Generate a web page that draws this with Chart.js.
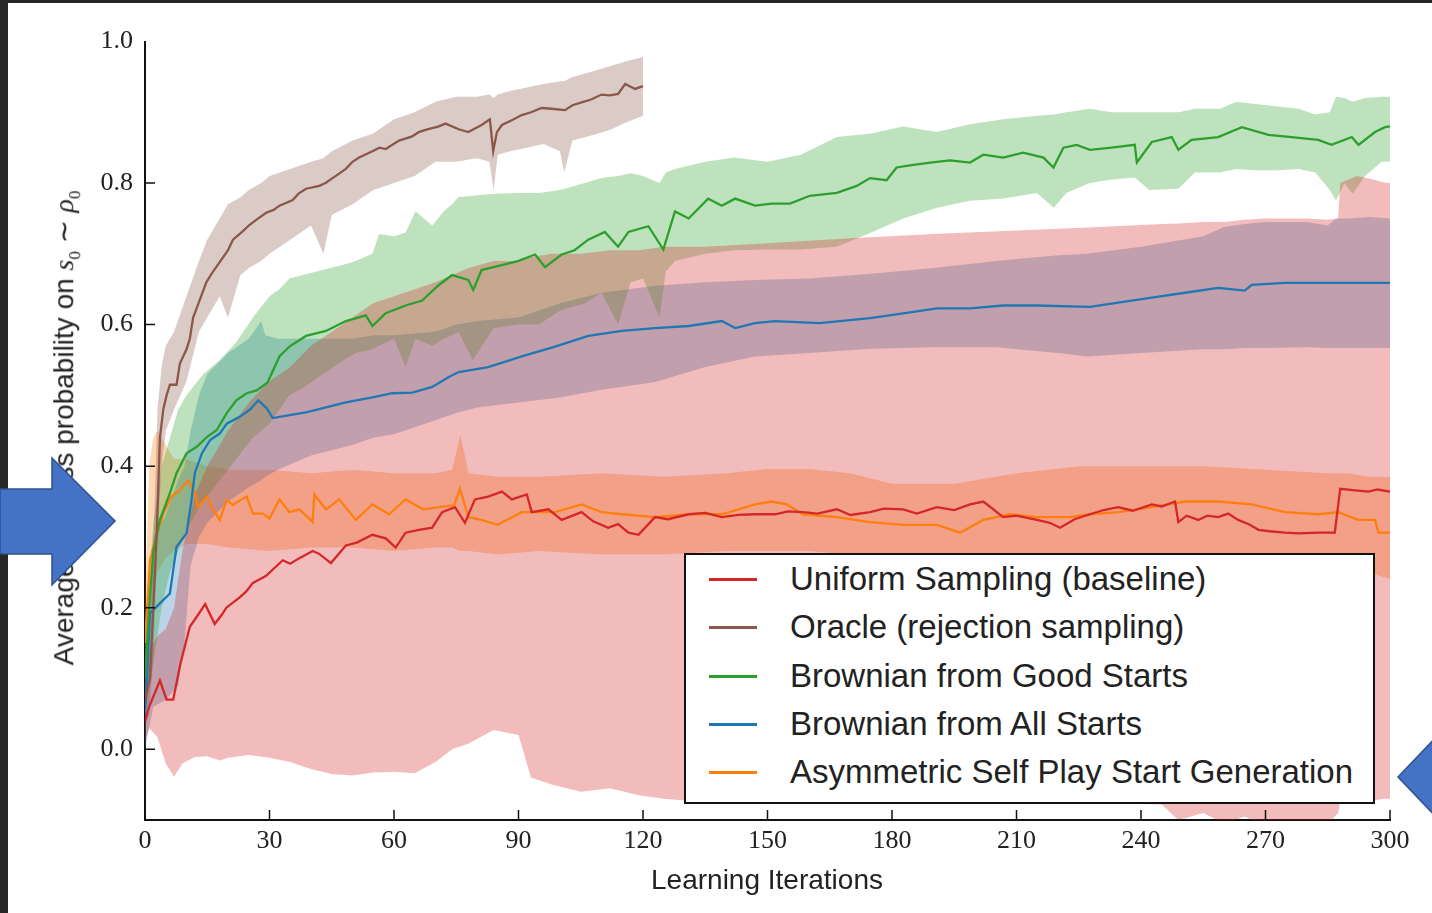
<!DOCTYPE html>
<html>
<head>
<meta charset="utf-8">
<script src="https://cdn.jsdelivr.net/npm/chart.js@4.4.1/dist/chart.umd.min.js"></script>
<style>
  html, body { margin: 0; padding: 0; background: #fff; }
  #wrap { position: relative; width: 1432px; height: 913px; overflow: hidden; background: #fff; }
  #wrap canvas { position: absolute; left: 0; top: 0; }
  .frame-top { position: absolute; left: 0; top: 0; width: 1432px; height: 3px; background: #262626; }
  .frame-left { position: absolute; left: 0; top: 0; width: 8px; height: 913px; background: #262626; }
  #ytitle {
    position: absolute; left: 66px; top: 428px;
    transform: translate(-50%, -50%) rotate(-90deg);
    white-space: nowrap; font-family: "Liberation Sans", Arial, sans-serif;
    font-size: 28px; color: #222;
  }
  #ytitle i { font-family: "Liberation Serif", serif; }
  #ytitle sub { font-size: 17px; font-family: "Liberation Serif", serif; }
  #xtitle {
    position: absolute; left: 767px; top: 880px;
    transform: translate(-50%, -50%);
    font-family: "Liberation Sans", Arial, sans-serif; font-size: 28px;
    color: #222; white-space: nowrap;
  }
  #legend {
    position: absolute; left: 684px; top: 553px; width: 687px; height: 247px;
    border: 2px solid #111; background: #fff;
  }
  #legend .row { position: absolute; left: 0; height: 40px; }
  #legend .swatch { position: absolute; left: 23px; top: 19px; width: 48px; height: 3px; }
  #legend .label {
    position: absolute; left: 104px; top: 0; line-height: 40px; white-space: nowrap;
    font-family: "Liberation Sans", Arial, sans-serif; font-size: 33px; color: #222;
  }
  svg.arrows { position: absolute; left: 0; top: 0; }
</style>
</head>
<body>
<div id="wrap">
  <canvas id="chart" width="1432" height="913"></canvas>
  <div class="frame-top"></div>
  <div class="frame-left"></div>
  <div id="ytitle">Average success probability on <i>s</i><sub>0</sub> ∼ <i>ρ</i><sub>0</sub></div>
  <div id="xtitle">Learning Iterations</div>
  <div id="legend"></div>
  <svg class="arrows" width="1432" height="913">
    <polygon points="0,489 52,489 52,458 115,521 52,585 52,554 0,554" fill="#4472C4" stroke="#2F528F" stroke-width="1.5"/>
    <polygon points="1398,777 1440,733 1440,821" fill="#4472C4" stroke="#2F528F" stroke-width="1.5"/>
  </svg>
</div>
<script>
const seriesNames = [
    'Uniform Sampling (baseline)',
    'Oracle (rejection sampling)',
    'Brownian from Good Starts',
    'Brownian from All Starts',
    'Asymmetric Self Play Start Generation'
];
const seriesColors = ['#d62728', '#8c564b', '#2ca02c', '#1f77b4', '#ff7f0e'];

const xTickValues = [0, 30, 60, 90, 120, 150, 180, 210, 240, 270, 300];
const yTickValues = [0.0, 0.2, 0.4, 0.6, 0.8, 1.0];

// [iteration, mean]
const uniformMean = [
    [0,0.04],[1,0.06],[3.6,0.097],[5.2,0.07],[6.8,0.07],[8.5,0.12],[10.8,0.173],[12.8,0.19],
    [14.5,0.205],[16.8,0.177],[18.5,0.19],[19.6,0.2],[22.9,0.215],[24.4,0.223],[26,0.235],
    [29.2,0.245],[31,0.255],[33.2,0.267],[35,0.262],[37.2,0.27],[40.4,0.28],[42,0.276],
    [44.8,0.263],[48.4,0.288],[51,0.292],[54.8,0.303],[58,0.298],[60.4,0.285],[62.8,0.306],
    [66,0.31],[69.2,0.313],[71.6,0.335],[74.7,0.342],[77.1,0.32],[79.5,0.353],[82.7,0.357],
    [86,0.364],[88.4,0.353],[92,0.36],[93.2,0.335],[97.2,0.339],[100.4,0.324],[105.2,0.335],
    [108,0.322],[111.6,0.313],[114,0.318],[116.5,0.306],[118.9,0.303],[122.9,0.328],[126,0.325],
    [131,0.332],[135,0.334],[139,0.328],[143,0.331],[147,0.332],[151.8,0.332],[155,0.336],
    [158.6,0.335],[162,0.333],[166.7,0.339],[170,0.331],[174.7,0.335],[178,0.34],[182.7,0.339],
    [186,0.333],[190.8,0.342],[195,0.338],[198.8,0.346],[202,0.35],[206.8,0.328],[210,0.33],
    [214.9,0.324],[218,0.32],[220.5,0.313],[224,0.325],[227.7,0.332],[231,0.338],[234.5,0.342],
    [238,0.337],[242.6,0.346],[245,0.343],[248.2,0.35],[249,0.321],[251,0.33],[253.8,0.324],
    [256,0.33],[258.6,0.328],[261,0.333],[263.4,0.324],[266,0.318],[268.3,0.31],[271,0.308],
    [274.7,0.306],[278,0.305],[282.7,0.306],[286.7,0.306],[288,0.368],[291,0.366],[294.8,0.364],
    [297,0.367],[300,0.364]
];
// [iteration, low, high]
const uniformBand = [
    [0,0.01,0.12],[1,0.03,0.14],[3,0.017,0.16],[5,-0.02,0.17],[7,-0.039,0.2],[9,-0.02,0.28],
    [12,-0.011,0.36],[15,-0.01,0.4],[18,-0.016,0.43],[20,-0.012,0.45],[25,-0.008,0.49],
    [30,-0.012,0.52],[35,-0.018,0.54],[40,-0.028,0.57],[45,-0.035,0.59],[50,-0.037,0.61],
    [55,-0.033,0.63],[60,-0.032,0.64],[65,-0.034,0.65],[70,-0.018,0.66],[74,0.0,0.67],
    [78,0.008,0.68],[84,0.027,0.69],[90,0.02,0.69],[93,-0.04,0.695],[98,-0.05,0.7],
    [105,-0.06,0.7],[112,-0.055,0.705],[119,-0.065,0.705],[125,-0.07,0.71],[135,-0.075,0.71],
    [150,-0.076,0.715],[170,-0.076,0.722],[190,-0.075,0.728],[210,-0.077,0.733],[230,-0.076,0.738],
    [245,-0.078,0.742],[249,-0.1,0.743],[255,-0.09,0.745],[260,-0.105,0.745],[265,-0.095,0.748],
    [270,-0.11,0.75],[275,-0.105,0.75],[280,-0.11,0.75],[285,-0.105,0.748],[287.5,-0.09,0.75],
    [288,-0.072,0.8],[292,-0.075,0.81],[296,-0.072,0.805],[299,-0.07,0.8],[300,-0.07,0.8]
];

const oracleMean = [
    [0,0.07],[1.2,0.1],[2,0.2],[2.8,0.3],[3.6,0.44],[4.4,0.48],[5.2,0.5],[6,0.515],[7.6,0.515],
    [8.4,0.545],[10,0.565],[10.8,0.58],[11.6,0.61],[13.2,0.635],[14.8,0.66],[16.4,0.675],
    [18.8,0.695],[20,0.705],[21.2,0.72],[23.6,0.732],[25,0.74],[26.8,0.748],[29.2,0.758],
    [31,0.762],[32.4,0.768],[35.6,0.776],[37,0.785],[38.8,0.792],[42,0.796],[43.5,0.8],
    [45.2,0.807],[48.4,0.82],[50,0.83],[51.6,0.836],[54.8,0.845],[56.5,0.85],[58,0.848],
    [61.2,0.86],[64.4,0.866],[66,0.872],[67.6,0.875],[70.8,0.88],[72.4,0.884],[75.6,0.876],
    [77.9,0.872],[81.1,0.882],[83.1,0.89],[83.9,0.845],[84.8,0.872],[86,0.882],[88.5,0.889],
    [90.8,0.896],[93,0.9],[95.6,0.906],[98,0.905],[101.2,0.903],[103,0.91],[105.2,0.914],
    [107.5,0.918],[110,0.925],[112,0.924],[114,0.926],[115.7,0.94],[118.1,0.933],[120,0.937]
];
const oracleBand = [
    [0,0.03,0.1],[1,0.05,0.15],[2,0.13,0.28],[3,0.3,0.48],[4,0.4,0.54],[5,0.45,0.57],
    [7,0.48,0.59],[10,0.52,0.64],[13,0.59,0.69],[15,0.61,0.72],[18,0.64,0.75],[20,0.61,0.77],
    [23,0.67,0.78],[25,0.68,0.79],[28,0.69,0.8],[30,0.7,0.81],[35,0.72,0.82],[40,0.74,0.83],
    [43,0.7,0.835],[45,0.755,0.845],[50,0.77,0.86],[55,0.79,0.87],[60,0.8,0.89],[65,0.81,0.9],
    [70,0.83,0.915],[75,0.83,0.922],[80,0.835,0.922],[83,0.83,0.925],[84,0.79,0.92],
    [85,0.84,0.925],[88,0.845,0.93],[92,0.85,0.935],[96,0.855,0.94],[100,0.845,0.944],
    [101,0.815,0.944],[103,0.86,0.95],[108,0.868,0.958],[112,0.875,0.965],[116,0.886,0.972],
    [120,0.895,0.978]
];

const goodMean = [
    [0,0.1],[1,0.2],[2,0.28],[3.6,0.324],[6,0.362],[7.6,0.39],[10,0.418],[12.4,0.427],
    [14.9,0.441],[17.3,0.451],[19.7,0.475],[22,0.493],[24.5,0.503],[26.9,0.507],[29.5,0.518],
    [32.4,0.555],[34.8,0.569],[38.8,0.584],[43.6,0.591],[48.4,0.605],[53.2,0.613],[54.8,0.598],
    [58,0.616],[62.8,0.627],[66.8,0.634],[70.8,0.656],[74,0.67],[77.9,0.663],[79.1,0.649],
    [81.1,0.677],[86.7,0.685],[90,0.69],[94,0.699],[96.4,0.681],[100.4,0.699],[103.5,0.705],
    [106.8,0.72],[110.8,0.731],[114,0.71],[116.5,0.731],[121.3,0.739],[124.9,0.706],[127.7,0.76],
    [131,0.75],[135.7,0.778],[139,0.768],[142.2,0.778],[147,0.768],[151,0.771],[155.4,0.771],
    [160.2,0.782],[166.7,0.786],[171.5,0.796],[174.7,0.807],[178.7,0.804],[181.1,0.822],
    [184.3,0.825],[189.2,0.829],[194,0.832],[198.8,0.829],[202,0.84],[206.8,0.836],[211.6,0.843],
    [216.5,0.836],[218.9,0.822],[221.3,0.85],[224.5,0.854],[227.7,0.847],[232.9,0.85],
    [238.5,0.854],[239,0.829],[242.6,0.858],[247.4,0.865],[249,0.847],[252.2,0.861],
    [258.6,0.865],[264.3,0.879],[270.7,0.868],[276.3,0.865],[282.7,0.861],[285.9,0.854],
    [290.8,0.865],[292.4,0.854],[296.4,0.872],[298.8,0.879],[300,0.88]
];
const goodBand = [
    [0,0.05,0.15],[2,0.12,0.32],[4,0.2,0.4],[6,0.25,0.44],[8,0.28,0.48],[10,0.31,0.5],
    [14,0.35,0.53],[18,0.38,0.55],[22,0.41,0.575],[26,0.44,0.61],[30,0.46,0.64],[32.4,0.48,0.65],
    [34.8,0.5,0.665],[38,0.51,0.67],[42.8,0.53,0.677],[48,0.55,0.685],[50.8,0.56,0.69],
    [54.8,0.565,0.7],[56.4,0.57,0.728],[60,0.58,0.725],[62.8,0.54,0.73],[65.2,0.58,0.76],
    [69.2,0.57,0.74],[72,0.58,0.76],[74,0.585,0.77],[75.5,0.59,0.78],[79,0.55,0.782],
    [84,0.595,0.785],[90,0.6,0.786],[95,0.6,0.786],[100,0.62,0.79],[106,0.63,0.8],
    [110,0.645,0.807],[114,0.6,0.81],[117,0.66,0.814],[120,0.665,0.81],[124,0.61,0.8],
    [125.5,0.675,0.815],[127.7,0.69,0.82],[135,0.7,0.83],[142,0.705,0.836],[150,0.706,0.83],
    [158,0.706,0.84],[166.7,0.71,0.865],[175,0.73,0.87],[182.7,0.75,0.88],[190.8,0.765,0.872],
    [198.8,0.775,0.883],[206.8,0.778,0.89],[214.9,0.786,0.895],[219,0.765,0.897],[222,0.786,0.9],
    [227.7,0.8,0.905],[233,0.805,0.9],[238.5,0.808,0.9],[242,0.79,0.9],[249,0.792,0.9],
    [253,0.815,0.905],[259,0.815,0.905],[263,0.82,0.915],[267,0.818,0.912],[273,0.818,0.908],
    [278,0.82,0.905],[282,0.815,0.897],[285.5,0.79,0.9],[287,0.775,0.922],[289,0.8,0.92],
    [291,0.785,0.915],[294,0.81,0.92],[298,0.83,0.922],[300,0.83,0.922]
];

const allMean = [
    [0,0.05],[0.4,0.093],[1.2,0.192],[3.6,0.206],[6,0.22],[7.6,0.286],[10,0.305],[11.2,0.352],
    [12,0.39],[13.7,0.418],[15.7,0.437],[18,0.446],[19.7,0.46],[22.9,0.47],[25.3,0.48],
    [27.3,0.493],[29.3,0.482],[30.8,0.468],[34.8,0.472],[38.8,0.476],[43.6,0.483],[48.4,0.49],
    [54.8,0.497],[59.6,0.503],[64.4,0.504],[69.2,0.512],[73.2,0.526],[75.6,0.533],[82.7,0.54],
    [90.8,0.555],[98.8,0.569],[106.8,0.584],[114.9,0.591],[122.9,0.595],[131,0.598],[139,0.605],
    [142.2,0.595],[147,0.602],[151.8,0.605],[162.6,0.602],[174.7,0.609],[182.7,0.616],
    [190.8,0.623],[198.8,0.623],[206.8,0.627],[214.9,0.627],[227.7,0.625],[234.5,0.631],
    [242.6,0.638],[250.6,0.645],[258.6,0.652],[265,0.648],[266.7,0.656],[274.7,0.659],
    [282.7,0.659],[290.8,0.659],[300,0.659]
];
const allBand = [
    [0,0.0,0.1],[2,0.06,0.3],[5,0.07,0.33],[8,0.09,0.38],[9.5,0.15,0.4],[11,0.26,0.45],
    [13,0.3,0.5],[15,0.32,0.53],[20,0.35,0.56],[25,0.37,0.58],[28,0.38,0.605],[29,0.385,0.585],
    [32,0.395,0.58],[40,0.415,0.58],[50,0.43,0.58],[55,0.44,0.585],[60,0.445,0.585],
    [70,0.465,0.59],[75,0.475,0.6],[80,0.483,0.605],[90,0.49,0.61],[100,0.497,0.63],
    [110,0.508,0.645],[123,0.519,0.655],[135,0.54,0.66],[147,0.555,0.663],[160,0.56,0.665],
    [175,0.566,0.672],[190,0.568,0.68],[205,0.568,0.69],[220,0.56,0.698],[227,0.555,0.7],
    [240,0.56,0.71],[255,0.565,0.725],[260,0.565,0.738],[265,0.567,0.742],[270,0.567,0.745],
    [280,0.568,0.745],[285,0.567,0.74],[287,0.567,0.75],[290,0.567,0.75],[295,0.567,0.752],
    [300,0.567,0.75]
];

const selfPlayMean = [
    [0,0.15],[1.2,0.267],[2.4,0.295],[4.4,0.333],[6.4,0.357],[8.4,0.366],[10.4,0.38],[12,0.362],
    [12.8,0.342],[14.9,0.357],[16,0.342],[18,0.324],[19.7,0.352],[21.2,0.345],[22.9,0.352],
    [24.5,0.357],[26,0.333],[28.4,0.333],[30,0.326],[32.4,0.353],[34.8,0.335],[37.2,0.339],
    [40.4,0.321],[40.8,0.36],[43.6,0.339],[46.8,0.353],[50.8,0.324],[54.8,0.346],[58.8,0.332],
    [62.8,0.353],[67,0.339],[71,0.342],[74.5,0.345],[75.9,0.368],[77.9,0.328],[81,0.324],
    [85,0.317],[90.8,0.335],[98.8,0.335],[105.2,0.346],[110,0.335],[114.9,0.332],[122.9,0.328],
    [131,0.332],[139,0.332],[147,0.346],[151,0.35],[154.6,0.346],[158.6,0.332],[166.7,0.328],
    [174.7,0.321],[182.7,0.317],[190.8,0.317],[196.4,0.306],[202,0.324],[208.4,0.332],
    [214.9,0.328],[222.9,0.328],[227.7,0.332],[234.5,0.335],[242.6,0.342],[250.6,0.35],
    [258.6,0.35],[266.7,0.346],[274.7,0.335],[282.7,0.332],[287.5,0.335],[292.4,0.324],
    [296.4,0.324],[297.2,0.306],[300,0.306]
];
const selfPlayBand = [
    [0,0.1,0.2],[1,0.18,0.4],[2,0.22,0.44],[3,0.25,0.45],[5,0.27,0.43],[7,0.28,0.41],
    [10,0.29,0.41],[15,0.29,0.4],[20,0.285,0.395],[30,0.28,0.395],[40,0.285,0.39],
    [50,0.285,0.395],[60,0.28,0.39],[70,0.285,0.39],[74,0.285,0.395],[76,0.28,0.444],
    [78,0.28,0.39],[85,0.275,0.385],[95,0.28,0.385],[110,0.275,0.39],[125,0.275,0.385],
    [140,0.28,0.39],[150,0.28,0.396],[160,0.28,0.396],[170,0.275,0.39],[180,0.27,0.375],
    [195,0.27,0.375],[210,0.27,0.39],[225,0.275,0.4],[240,0.275,0.4],[255,0.275,0.4],
    [270,0.27,0.395],[285,0.265,0.39],[290,0.26,0.39],[295,0.25,0.385],[300,0.24,0.385]
];

const means = [uniformMean, oracleMean, goodMean, allMean, selfPlayMean];
const bands = [uniformBand, oracleBand, goodBand, allBand, selfPlayBand];

function hexToRgba(hex, a) {
    const n = parseInt(hex.slice(1), 16);
    return `rgba(${(n >> 16) & 255}, ${(n >> 8) & 255}, ${n & 255}, ${a})`;
}

const datasets = [];

// mean lines first so they sit on top (order 0)
means.forEach((m, i) => {
    datasets.push({
        label: seriesNames[i],
        data: m.map(p => ({ x: p[0], y: p[1] })),
        borderColor: seriesColors[i],
        borderWidth: 2.3,
        pointRadius: 0,
        fill: false,
        order: 0
    });
});

// shaded bands: low edge, then high edge filled down to it
bands.forEach((b, i) => {
    datasets.push({
        label: seriesNames[i] + ' low',
        data: b.map(p => ({ x: p[0], y: p[1] })),
        borderWidth: 0,
        pointRadius: 0,
        fill: false,
        order: 1
    });
    datasets.push({
        label: seriesNames[i] + ' high',
        data: b.map(p => ({ x: p[0], y: p[2] })),
        borderWidth: 0,
        pointRadius: 0,
        backgroundColor: hexToRgba(seriesColors[i], 0.31),
        fill: '-1',
        order: 1
    });
});

const innerTicks = {
    id: 'innerTicks',
    afterDatasetsDraw(chart) {
        const { ctx, chartArea, scales } = chart;
        ctx.save();
        ctx.strokeStyle = '#111';
        ctx.lineWidth = 1.5;
        ctx.beginPath();
        yTickValues.filter(v => v < 1).forEach(v => {
            const py = scales.y.getPixelForValue(v);
            ctx.moveTo(chartArea.left, py);
            ctx.lineTo(chartArea.left + 10, py);
        });
        xTickValues.filter(v => v > 0).forEach(v => {
            const px = scales.x.getPixelForValue(v);
            ctx.moveTo(px, chartArea.bottom);
            ctx.lineTo(px, chartArea.bottom - 10);
        });
        ctx.stroke();
        ctx.restore();
    }
};

const tickFont = { family: '"Liberation Serif", serif', size: 26 };

new Chart(document.getElementById('chart').getContext('2d'), {
    type: 'line',
    data: { datasets },
    options: {
        responsive: false,
        animation: false,
        layout: { padding: { left: 0, top: 41.5, right: 42, bottom: 0 } },
        plugins: { legend: { display: false }, tooltip: { enabled: false } },
        elements: { line: { tension: 0 } },
        scales: {
            x: {
                type: 'linear',
                min: 0,
                max: 300,
                z: 1,
                grid: { display: false, drawTicks: false },
                border: { display: true, color: '#111', width: 2 },
                ticks: {
                    autoSkip: false, maxRotation: 0, padding: 6,
                    color: '#222', font: tickFont,
                    callback: v => String(v)
                },
                afterBuildTicks: s => { s.ticks = xTickValues.map(v => ({ value: v })); },
                afterFit: s => { s.height = 93; }
            },
            y: {
                type: 'linear',
                min: -0.1,
                max: 1.0,
                z: 1,
                grid: { display: false, drawTicks: false },
                border: { display: true, color: '#111', width: 2 },
                ticks: {
                    autoSkip: false, padding: 12,
                    color: '#222', font: tickFont,
                    callback: v => v.toFixed(1)
                },
                afterBuildTicks: s => { s.ticks = yTickValues.map(v => ({ value: v })); },
                afterFit: s => { s.width = 145; }
            }
        }
    },
    plugins: [innerTicks]
});

// legend box
const legend = document.getElementById('legend');
seriesNames.forEach((name, i) => {
    const row = document.createElement('div');
    row.className = 'row';
    row.style.top = (4 + i * 48.3) + 'px';
    row.innerHTML = `
        <div class="swatch" style="background:${seriesColors[i]}"></div>
        <div class="label">${name}</div>
    `;
    legend.appendChild(row);
});
</script>
</body>
</html>
